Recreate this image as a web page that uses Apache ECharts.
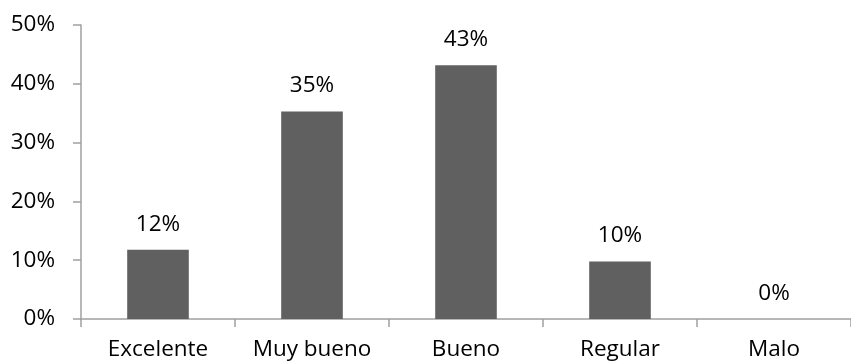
<!DOCTYPE html>
<html>
<head>
<meta charset="utf-8">
<script src="https://cdn.jsdelivr.net/npm/echarts@6/dist/echarts.min.js"></script>
<style>
  html, body { margin: 0; padding: 0; background: #fff; }
  #chart { width: 851px; height: 363px; }
</style>
</head>
<body>
<div id="chart"></div>
<script>
// categorías y porcentajes
const categories = ['Excelente', 'Muy bueno', 'Bueno', 'Regular', 'Malo']
const values = [11.76, 35.29, 43.14, 9.8, 0]
const yTicks = [0, 10, 20, 30, 40, 50]

const font = 'Open Sans'

const chart = echarts.init(document.getElementById('chart'))

chart.setOption({
  animation: false,
  grid: {
    left: 81,
    right: -8,
    top: 25,
    bottom: 44
  },
  xAxis: {
    type: 'category',
    data: categories,
    axisLine: { lineStyle: { color: '#a0a0a0', width: 1.5 } },
    axisTick: { show: true, length: 8, lineStyle: { color: '#a0a0a0', width: 1.5 } },
    axisLabel: {
      interval: 0,
      color: '#000',
      fontFamily: font,
      fontSize: 22.5,
      margin: 19
    }
  },
  yAxis: {
    type: 'value',
    min: yTicks[0],
    max: yTicks[yTicks.length - 1],
    interval: 10,
    splitLine: { show: false },
    axisLine: { show: true, lineStyle: { color: '#a0a0a0', width: 1.5 } },
    axisTick: { show: true, length: 8, lineStyle: { color: '#a0a0a0', width: 1.5 } },
    axisLabel: {
      color: '#000',
      fontFamily: font,
      fontSize: 22.5,
      margin: 26,
      formatter: '{value}%'
    }
  },
  series: [
    {
      type: 'bar',
      data: values,
      barWidth: '40%',
      itemStyle: {
        color: '#606060'
      },
      label: {
        show: true,
        position: 'top',
        distance: 14,
        color: '#000',
        fontFamily: font,
        fontSize: 22.5,
        formatter: p => Math.round(p.value) + '%'
      }
    }
  ]
})
</script>
</body>
</html>
